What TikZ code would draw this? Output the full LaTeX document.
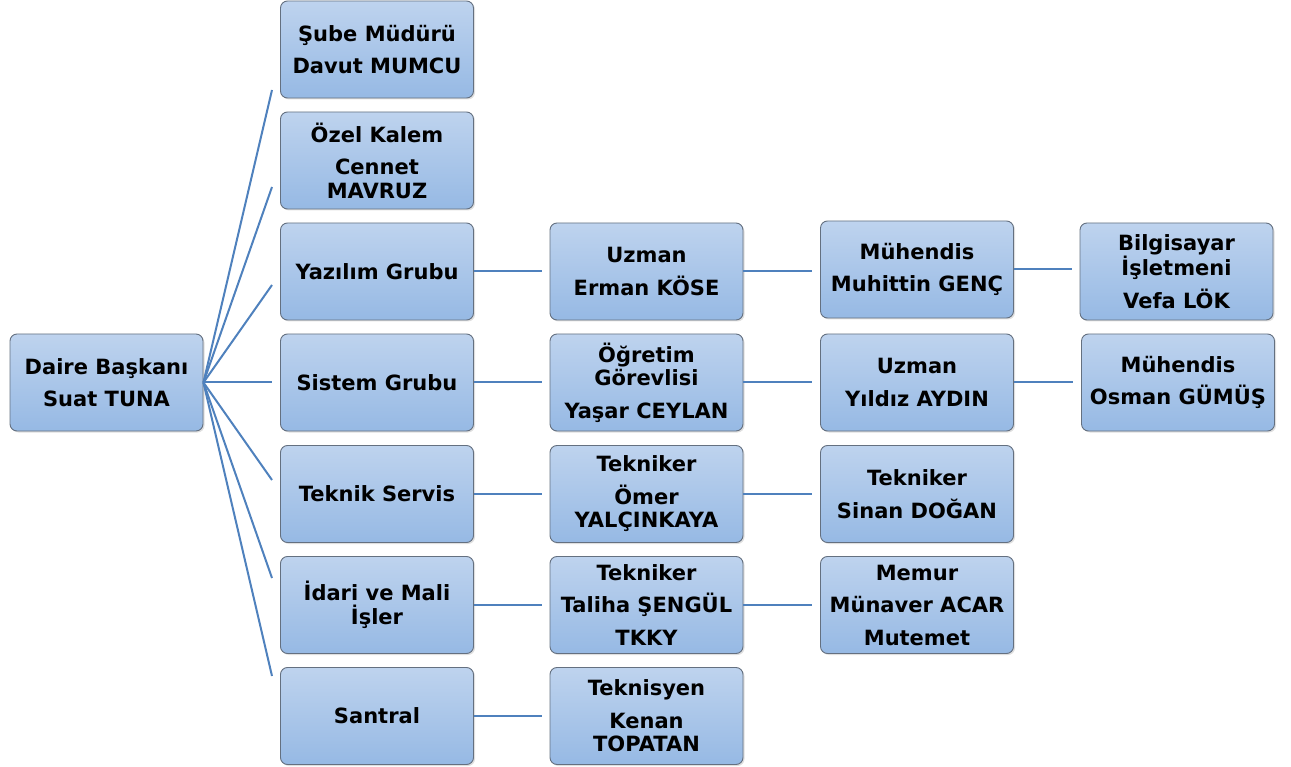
\documentclass[tikz,border=0pt]{standalone}
\usepackage{fontspec}
\setmainfont{DejaVu Sans}
\usetikzlibrary{calc,shadows}
\definecolor{boxtop}{RGB}{190,211,238}
\definecolor{boxbot}{RGB}{150,185,228}
\definecolor{boxline}{RGB}{100,112,128}
\definecolor{conncol}{RGB}{79,129,189}
\tikzset{
  orgbox/.style={draw=boxline, line width=0.9pt, rounded corners=7pt,
    top color=boxtop, bottom color=boxbot, minimum width=193pt, minimum height=97pt,
    inner sep=0pt, align=center, text=black,
    font=\fontsize{21}{23.5}\selectfont\bfseries,
    drop shadow={shadow xshift=1.5pt, shadow yshift=-1.5pt, opacity=0.25, fill=black!50}},
  conn/.style={draw=conncol, line width=2pt},
}
\begin{document}
\begin{tikzpicture}[x=1pt,y=-1pt]
\useasboundingbox (0,0) rectangle (1291,767);
% root
\node[orgbox] (root) at (106.5,382.5) {Daire Başkanı\\[9pt]Suat TUNA};
% column 1
\node[orgbox] (c1) at (377,49.5) {Şube Müdürü\\[9pt]Davut MUMCU};
\node[orgbox] (c2) at (377,160.5) {Özel Kalem\\[9pt]Cennet\\MAVRUZ};
\node[orgbox] (c3) at (377,271.5) {Yazılım Grubu};
\node[orgbox] (c4) at (377,382.5) {Sistem Grubu};
\node[orgbox] (c5) at (377,494) {Teknik Servis};
\node[orgbox] (c6) at (377,605) {İdari ve Mali\\İşler};
\node[orgbox] (c7) at (377,716) {Santral};
% column 2
\node[orgbox] (d3) at (646.5,271.5) {Uzman\\[9pt]Erman KÖSE};
\node[orgbox] (d4) at (646.5,382.5) {Öğretim\\Görevlisi\\[9pt]Yaşar CEYLAN};
\node[orgbox] (d5) at (646.5,494) {Tekniker\\[9pt]Ömer\\YALÇINKAYA};
\node[orgbox] (d6) at (646.5,605) {Tekniker\\[9pt]Taliha ŞENGÜL\\[9pt]TKKY};
\node[orgbox] (d7) at (646.5,716) {Teknisyen\\[9pt]Kenan\\TOPATAN};
% column 3
\node[orgbox] (e3) at (917,269.5) {Mühendis\\[9pt]Muhittin GENÇ};
\node[orgbox] (e4) at (917,382.5) {Uzman\\[9pt]Yıldız AYDIN};
\node[orgbox] (e5) at (917,494) {Tekniker\\[9pt]Sinan DOĞAN};
\node[orgbox] (e6) at (917,605) {Memur\\[9pt]Münaver ACAR\\[9pt]Mutemet};
% column 4
\node[orgbox] (g3) at (1176.5,271.5) {Bilgisayar\\İşletmeni\\[9pt]Vefa LÖK};
\node[orgbox] (g4) at (1178,382.5) {Mühendis\\[9pt]Osman GÜMÜŞ};
% fan coordinates
\coordinate (f1) at (272,90);
\coordinate (f2) at (272,187);
\coordinate (f3) at (272,285);
\coordinate (f4) at (272,382.5);
\coordinate (f5) at (272,480);
\coordinate (f6) at (272,578);
\coordinate (f7) at (272,676);
\foreach \i in {1,...,7} {\draw[conn] (root.east) -- (f\i);}
% horizontal connectors
\foreach \a/\b in {c3/d3,c4/d4,c5/d5,c6/d6,c7/d7,d3/e3,d4/e4,d5/e5,d6/e6,e3/g3,e4/g4} {
  \draw[conn, shorten >=8pt] (\a.east) -- (\a.east -| \b.west);
}
\end{tikzpicture}
\end{document}
